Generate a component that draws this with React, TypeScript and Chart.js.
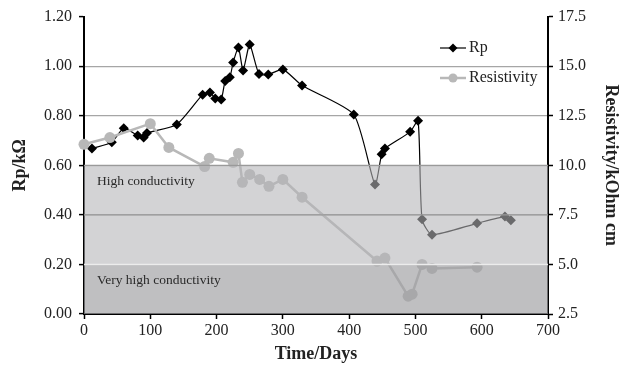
import React, { useEffect, useRef } from 'react';
import { Chart, registerables } from 'chart.js';

Chart.register(...registerables);

const rpDays = [12, 42, 60, 81, 90, 95, 140, 179, 190, 198, 207, 213, 220, 225, 233, 240, 250, 264, 278, 300, 329, 407, 439, 449, 454, 492, 504, 510, 525, 593, 635, 644];
const rpValues = [0.668, 0.693, 0.75, 0.72, 0.712, 0.73, 0.765, 0.885, 0.894, 0.87, 0.866, 0.94, 0.955, 1.015, 1.075, 0.983, 1.087, 0.968, 0.966, 0.987, 0.922, 0.805, 0.523, 0.645, 0.668, 0.735, 0.78, 0.382, 0.32, 0.366, 0.393, 0.378];

const resDays = [0, 39, 100, 128, 182, 189, 225, 233, 239, 250, 265, 279, 300, 329, 442, 454, 489, 495, 510, 525, 593];
const resValues = [11.06, 11.4, 12.1, 10.9, 9.94, 10.35, 10.15, 10.6, 9.14, 9.54, 9.29, 8.94, 9.29, 8.39, 5.17, 5.32, 3.4, 3.5, 5.0, 4.8, 4.86];

const rpLabel = 'Rp';
const resLabel = 'Resistivity';
const xTitle = 'Time/Days';
const yTitle = 'Rp/kΩ';
const y2Title = 'Resistivity/kOhm cm';
const bandHigh = 'High conductivity';
const bandVeryHigh = 'Very high conductivity';

const SERIF = '"Liberation Serif", "Times New Roman", serif';
const RP_COLOR = '#000000';
const RES_COLOR = '#b8b8b8';

const bandsPlugin = {
  id: 'bands',
  afterDatasetsDraw(chart: any) {
    const { ctx, chartArea, scales } = chart;
    const y = scales.y;
    const { left, right } = chartArea;
    const y06 = y.getPixelForValue(0.6);
    const y04 = y.getPixelForValue(0.4);
    const y02 = y.getPixelForValue(0.2);
    const y0 = y.getPixelForValue(0);
    ctx.save();
    ctx.fillStyle = 'rgba(180,180,183,0.59)';
    ctx.fillRect(left, y06, right - left, y02 - y06);
    ctx.fillStyle = 'rgba(160,160,164,0.68)';
    ctx.fillRect(left, y02, right - left, y0 - y02);
    ctx.lineWidth = 1.2;
    ctx.strokeStyle = '#9a9a9a';
    ctx.beginPath();
    ctx.moveTo(left, y06);
    ctx.lineTo(right, y06);
    ctx.moveTo(left, y04);
    ctx.lineTo(right, y04);
    ctx.stroke();
    ctx.strokeStyle = '#ececec';
    ctx.lineWidth = 1.5;
    ctx.beginPath();
    ctx.moveTo(left, y02);
    ctx.lineTo(right, y02);
    ctx.stroke();
    ctx.fillStyle = '#2a2a2a';
    ctx.font = `13.5px ${SERIF}`;
    ctx.textBaseline = 'middle';
    ctx.textAlign = 'left';
    ctx.fillText(bandHigh, left + 13, y06 + 16);
    ctx.fillText(bandVeryHigh, left + 13, y02 + 16);
    ctx.restore();
  },
  afterDraw(chart: any) {
    const { ctx } = chart;
    ctx.save();
    const x0 = 440;
    const x1 = 466;
    const rows = [
      { y: 48, label: rpLabel, color: RP_COLOR, width: 1.2, style: 'diamond' },
      { y: 78, label: resLabel, color: RES_COLOR, width: 2.5, style: 'circle' },
    ];
    rows.forEach((r) => {
      ctx.strokeStyle = r.color;
      ctx.lineWidth = r.width;
      ctx.beginPath();
      ctx.moveTo(x0, r.y);
      ctx.lineTo(x1, r.y);
      ctx.stroke();
      ctx.fillStyle = r.color;
      const cx = (x0 + x1) / 2;
      ctx.beginPath();
      if (r.style === 'diamond') {
        ctx.moveTo(cx, r.y - 4.5);
        ctx.lineTo(cx + 4.5, r.y);
        ctx.lineTo(cx, r.y + 4.5);
        ctx.lineTo(cx - 4.5, r.y);
        ctx.closePath();
      } else {
        ctx.arc(cx, r.y, 4.5, 0, Math.PI * 2);
      }
      ctx.fill();
      ctx.fillStyle = '#222';
      ctx.font = `16px ${SERIF}`;
      ctx.textBaseline = 'middle';
      ctx.textAlign = 'left';
      ctx.fillText(r.label, x1 + 3, r.y);
    });
    ctx.restore();
  },
};

export default function App() {
  const ref = useRef<HTMLCanvasElement | null>(null);

  useEffect(() => {
    document.body.style.margin = '0';
    const canvas = ref.current;
    if (!canvas) return;
    const rpData = rpDays.map((d, i) => ({ x: d, y: rpValues[i] }));
    const resData = resDays.map((d, i) => ({ x: d, y: resValues[i] }));
    const chart = new Chart(canvas, {
      type: 'line',
      data: {
        datasets: [
          {
            label: rpLabel,
            data: rpData,
            yAxisID: 'y',
            borderColor: RP_COLOR,
            backgroundColor: RP_COLOR,
            borderWidth: 1.2,
            pointStyle: 'rectRot',
            pointRadius: 5,
            pointBorderWidth: 0,
            pointBackgroundColor: RP_COLOR,
            tension: 0.2,
            clip: false,
            order: 1,
          },
          {
            label: resLabel,
            data: resData,
            yAxisID: 'y2',
            borderColor: RES_COLOR,
            backgroundColor: RES_COLOR,
            borderWidth: 2.5,
            pointStyle: 'circle',
            pointRadius: 5.5,
            pointBorderWidth: 0,
            pointBackgroundColor: RES_COLOR,
            tension: 0,
            clip: false,
            order: 0,
          },
        ],
      },
      options: {
        responsive: false,
        animation: false,
        layout: { padding: { top: 16, left: 0, right: 0, bottom: 0 } },
        plugins: { legend: { display: false }, tooltip: { enabled: false } },
        scales: {
          x: {
            type: 'linear',
            min: 0,
            max: 700,
            ticks: { stepSize: 100, color: '#222', font: { family: SERIF, size: 16 }, padding: 2 },
            grid: { drawOnChartArea: false, tickLength: 5, tickColor: '#000', tickWidth: 1.5 },
            border: { color: '#000', width: 2 },
            title: { display: true, text: xTitle, color: '#222', font: { family: SERIF, size: 18, weight: 'bold' }, padding: { top: 4, bottom: 4 } },
            afterFit: (s: any) => { s.height = 55; },
          },
          y: {
            position: 'left',
            min: 0,
            max: 1.2,
            ticks: { stepSize: 0.2, color: '#222', font: { family: SERIF, size: 16 }, padding: 7, callback: (v: any) => Number(v).toFixed(2) },
            grid: {
              color: (c: any) => (c.tick && (Math.abs(c.tick.value - 1.2) < 1e-6 || Math.abs(c.tick.value) < 1e-6) ? 'rgba(0,0,0,0)' : '#a6a6a6'),
              lineWidth: 1.2,
              tickLength: 5,
              tickColor: '#000',
              tickWidth: 1.5,
            },
            border: { color: '#000', width: 2 },
            title: { display: true, text: yTitle, color: '#222', font: { family: SERIF, size: 18, weight: 'bold' }, padding: { top: 10, bottom: 0 } },
            afterFit: (s: any) => { s.width = 84; },
          },
          y2: {
            position: 'right',
            min: 2.5,
            max: 17.5,
            ticks: { stepSize: 2.5, color: '#222', font: { family: SERIF, size: 16 }, padding: 5, callback: (v: any) => Number(v).toFixed(1) },
            grid: { drawOnChartArea: false, tickLength: 5, tickColor: '#000', tickWidth: 1.5 },
            border: { color: '#000', width: 2 },
            title: { display: true, text: y2Title, color: '#222', font: { family: SERIF, size: 18, weight: 'bold' }, padding: { top: 9, bottom: 0 } },
            afterFit: (s: any) => { s.width = 82; },
          },
        },
      },
      plugins: [bandsPlugin],
    });
    return () => chart.destroy();
  }, []);

  return (
    <div style={{ position: 'absolute', left: 0, top: 0, width: 630, height: 369, background: '#fff' }}>
      <canvas ref={ref} width={630} height={369} style={{ display: 'block', width: 630, height: 369 }} />
    </div>
  );
}
